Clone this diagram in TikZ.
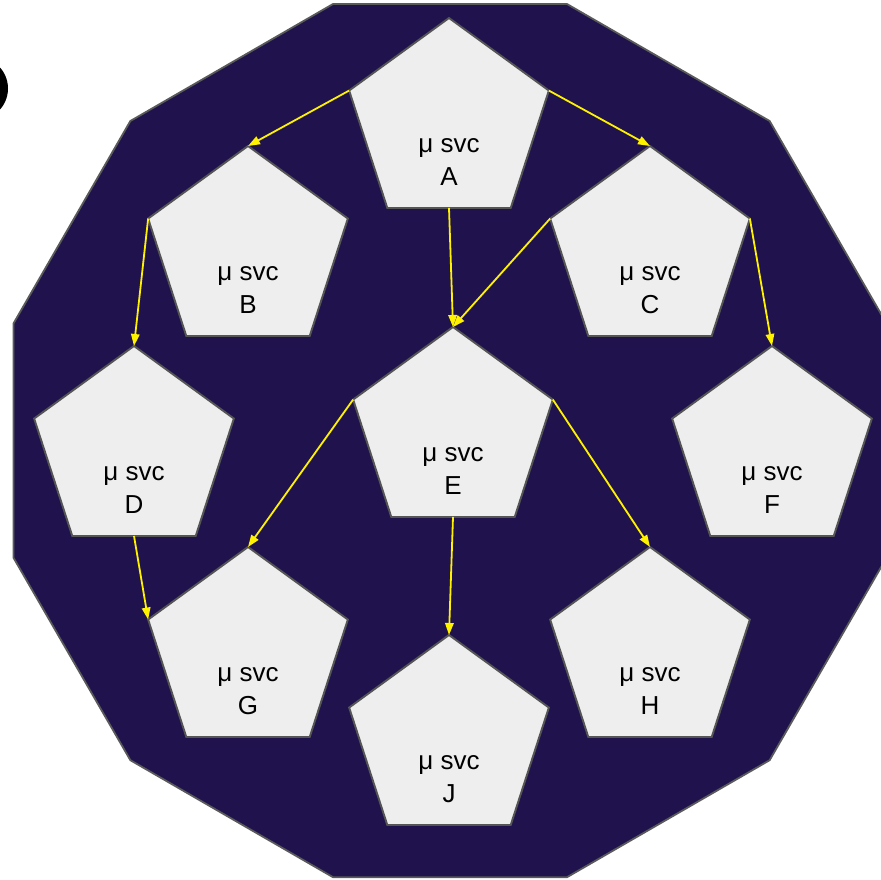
\documentclass[tikz,border=0pt]{standalone}
\usepackage{fontspec}
\setmainfont{Liberation Sans}
\usetikzlibrary{shapes.geometric,arrows.meta,calc}
\definecolor{navy}{HTML}{20134D}
\definecolor{edgegray}{HTML}{5A5A5A}
\definecolor{pentfill}{HTML}{EEEEEE}
\definecolor{pentline}{HTML}{555555}
\tikzset{
  svcbox/.style={regular polygon, regular polygon sides=5, minimum size=210pt,
    inner sep=0pt, outer sep=0pt, fill=pentfill, draw=pentline, line width=1.9pt},
  svclabel/.style={align=center, font=\fontsize{26}{33}\selectfont, inner sep=0pt},
  flow/.style={draw=yellow, line width=1.8pt, -{Triangle[length=12pt,width=8.5pt]}, shorten >=0pt},
  bgshape/.style={regular polygon, regular polygon sides=12, minimum size=904pt,
    inner sep=0pt, outer sep=0pt, fill=navy, draw=edgegray, line width=1.8pt}
}
\newcommand{\svcnode}[4]{%
  \node[svcbox] (#1) at (#2,#3) {};
  \node[svclabel] (#1t) at ($(#1.center)+(0,39)$) {μ svc\\#4};
}
\begin{document}
\begin{tikzpicture}[x=1pt,y=-1pt]
\useasboundingbox (0,0) rectangle (881,879);
\node[bgshape] (bg) at (450,440.6) {};
\fill[black] (-23.6,88.5) circle (31.6pt);
\svcnode{A}{449}{123}{A}
\svcnode{B}{248}{251}{B}
\svcnode{C}{650}{251}{C}
\svcnode{D}{134}{451}{D}
\svcnode{E}{453}{432}{E}
\svcnode{F}{772}{451}{F}
\svcnode{G}{248}{652}{G}
\svcnode{H}{650}{652}{H}
\svcnode{J}{449}{740}{J}
\draw[flow] (A.corner 2) -- (B.corner 1);
\draw[flow] (A.corner 5) -- (C.corner 1);
\draw[flow] (A.south) -- (E.corner 1);
\draw[flow] (B.corner 2) -- (D.corner 1);
\draw[flow] (C.corner 2) -- (E.corner 1);
\draw[flow] (C.corner 5) -- (F.corner 1);
\draw[flow] (D.south) -- (G.corner 2);
\draw[flow] (E.corner 2) -- (G.corner 1);
\draw[flow] (E.corner 5) -- (H.corner 1);
\draw[flow] (E.south) -- (J.corner 1);
\end{tikzpicture}
\end{document}
